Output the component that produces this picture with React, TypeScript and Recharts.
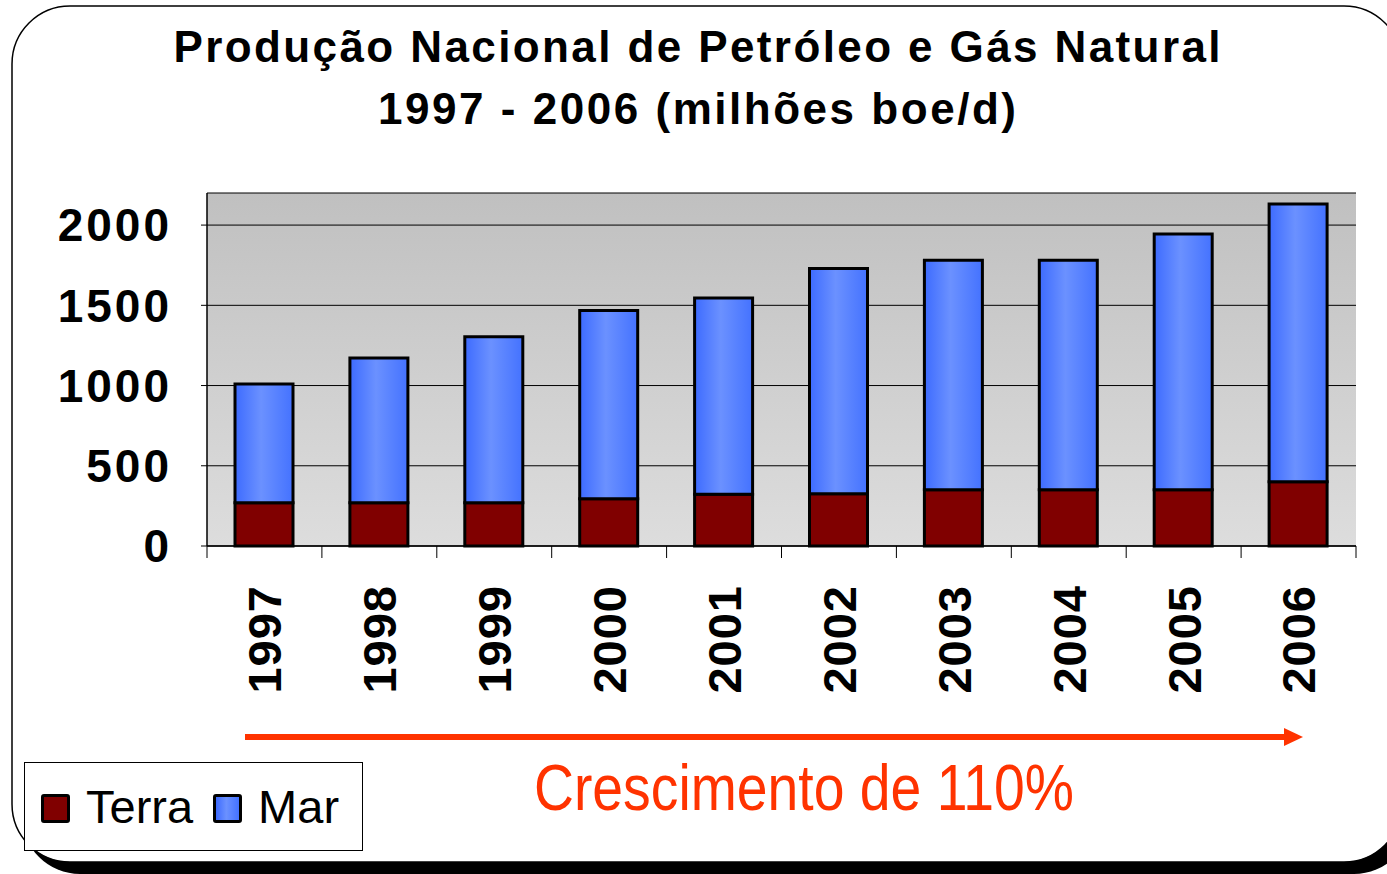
import React from 'react';
import { BarChart, Bar, XAxis, YAxis, CartesianGrid, Legend } from 'recharts';

// production, thousand boe/d
const years = ['1997', '1998', '1999', '2000', '2001', '2002', '2003', '2004', '2005', '2006'];
const terra = [270, 270, 270, 295, 323, 326, 351, 351, 351, 401];
const mar = [740, 902, 1034, 1172, 1222, 1404, 1430, 1430, 1593, 1731];
const yTicks = [0, 500, 1000, 1500, 2000];
const seriesOrder = ['terra', 'mar'];

const data = years.map((year, i) => ({ year, terra: terra[i], mar: mar[i] }));

const W = 1387;
const H = 874;
const PLOT = { left: 207, top: 193, right: 1356, bottom: 546 };
const BAND = (PLOT.right - PLOT.left) / years.length;
const FONT = '"Liberation Sans", Arial, sans-serif';
const RED = '#ff3300';

const swatch: Record<string, React.CSSProperties> = {
  terra: { background: '#800000' },
  mar: { background: 'linear-gradient(90deg, #3d6bff 0%, #6b91ff 45%, #4472ff 100%)' },
};

function YearTick(props: any) {
  const { x, y, payload, index } = props;
  const last = index === years.length - 1;
  return (
    <g>
      <line x1={x - BAND / 2} x2={x - BAND / 2} y1={y - 12} y2={y} stroke="#000" strokeWidth={1} />
      {last && <line x1={x + BAND / 2} x2={x + BAND / 2} y1={y - 12} y2={y} stroke="#000" strokeWidth={1} />}
      <g transform={`translate(${x},${y + 27}) rotate(-90)`}>
        <text x={0} y={0} dy="0.36em" textAnchor="end" fill="#000" fontSize={47} fontWeight="bold" fontFamily={FONT} letterSpacing={1}>
          {payload.value}
        </text>
      </g>
    </g>
  );
}

function LegendBox({ payload }: any) {
  const items = [...(payload || [])].sort(
    (a: any, b: any) => seriesOrder.indexOf(a.dataKey) - seriesOrder.indexOf(b.dataKey)
  );
  return (
    <div
      style={{
        boxSizing: 'border-box',
        width: 339,
        height: 89,
        border: '1px solid #000',
        background: '#fff',
        display: 'flex',
        alignItems: 'center',
        paddingLeft: 16,
        fontFamily: FONT,
        fontSize: 47,
        color: '#000',
      }}
    >
      {items.map((p: any) => (
        <span key={p.dataKey} style={{ display: 'flex', alignItems: 'center', marginRight: 20 }}>
          <span
            style={{
              ...swatch[p.dataKey],
              boxSizing: 'border-box',
              width: 29,
              height: 29,
              border: '3px solid #000',
              borderRadius: 3,
              marginRight: 16,
              marginTop: 4,
            }}
          />
          {p.value}
        </span>
      ))}
    </div>
  );
}

export default function App() {
  return (
    <div style={{ position: 'absolute', left: 0, top: 0, width: W, height: H, overflow: 'hidden', background: '#fff' }}>
      {/* slide frame with drop shadow */}
      <svg width={W} height={H} style={{ position: 'absolute', left: 0, top: 0 }}>
        <rect x={22} y={18} width={1390} height={856} rx={58} fill="#000" />
        <rect x={12} y={6} width={1390} height={856} rx={58} fill="#fff" stroke="#000" strokeWidth={1.5} />
      </svg>

      <div style={{ position: 'absolute', left: 0, top: 0 }}>
        <BarChart
          width={W}
          height={H}
          data={data}
          margin={{ top: PLOT.top, right: W - PLOT.right, bottom: H - PLOT.bottom - 160, left: 0 }}
          barSize={58}
        >
          <defs>
            <linearGradient id="plotBg" x1="0" y1="0" x2="0" y2="1">
              <stop offset="0%" stopColor="#c0c0c0" />
              <stop offset="100%" stopColor="#dddddd" />
            </linearGradient>
            <linearGradient id="marGrad" x1="0" y1="0" x2="1" y2="0">
              <stop offset="0%" stopColor="#3d6bff" />
              <stop offset="45%" stopColor="#6b91ff" />
              <stop offset="100%" stopColor="#4472ff" />
            </linearGradient>
          </defs>
          <CartesianGrid vertical={false} stroke="#000" strokeWidth={1} fill="url(#plotBg)" fillOpacity={1} />
          <XAxis
            dataKey="year"
            height={160}
            axisLine={{ stroke: '#000', strokeWidth: 1.5 }}
            tickLine={false}
            tickSize={12}
            tickMargin={0}
            interval={0}
            tick={<YearTick />}
          />
          <XAxis xAxisId="top" dataKey="year" orientation="top" height={0} tick={false} tickLine={false} axisLine={{ stroke: '#888' }} />
          <YAxis
            width={PLOT.left}
            domain={[0, 2200]}
            ticks={yTicks}
            interval={0}
            axisLine={{ stroke: '#000', strokeWidth: 1.5 }}
            tickLine={{ stroke: '#000' }}
            tickSize={6}
            tickMargin={29}
            tick={{ fill: '#000', fontSize: 46, fontWeight: 'bold', fontFamily: FONT, letterSpacing: 3 }}
          />
          <YAxis yAxisId="right" orientation="right" width={0} tick={false} tickLine={false} axisLine={{ stroke: '#888' }} />
          <Legend
            verticalAlign="middle"
            align="center"
            content={<LegendBox />}
            wrapperStyle={{ left: 24, top: 762, width: 339, height: 89 }}
          />
          <Bar dataKey="terra" name="Terra" stackId="a" fill="#800000" stroke="#000" strokeWidth={3} isAnimationActive={false} />
          <Bar dataKey="mar" name="Mar" stackId="a" fill="url(#marGrad)" stroke="#000" strokeWidth={3} isAnimationActive={false} />
        </BarChart>
      </div>

      {/* title and growth annotation */}
      <svg width={W} height={H} style={{ position: 'absolute', left: 0, top: 0, pointerEvents: 'none' }}>
        <text x={697} y={62} textAnchor="middle" fontFamily={FONT} fontWeight="bold" fontSize={44} textLength={1047} lengthAdjust="spacing" fill="#000">
          Produção Nacional de Petróleo e Gás Natural
        </text>
        <text x={697} y={124} textAnchor="middle" fontFamily={FONT} fontWeight="bold" fontSize={44} textLength={638} lengthAdjust="spacing" fill="#000">
          1997 - 2006 (milhões boe/d)
        </text>
        <line x1={245} x2={1286} y1={737} y2={737} stroke={RED} strokeWidth={6} />
        <polygon points="1284,728 1303,737 1284,746" fill={RED} />
        <text x={804} y={810} textAnchor="middle" fontFamily={'"Liberation Sans Narrow", "Arial Narrow", sans-serif'} fontSize={64} textLength={540} lengthAdjust="spacingAndGlyphs" fill={RED}>
          Crescimento de 110%
        </text>
      </svg>
    </div>
  );
}
